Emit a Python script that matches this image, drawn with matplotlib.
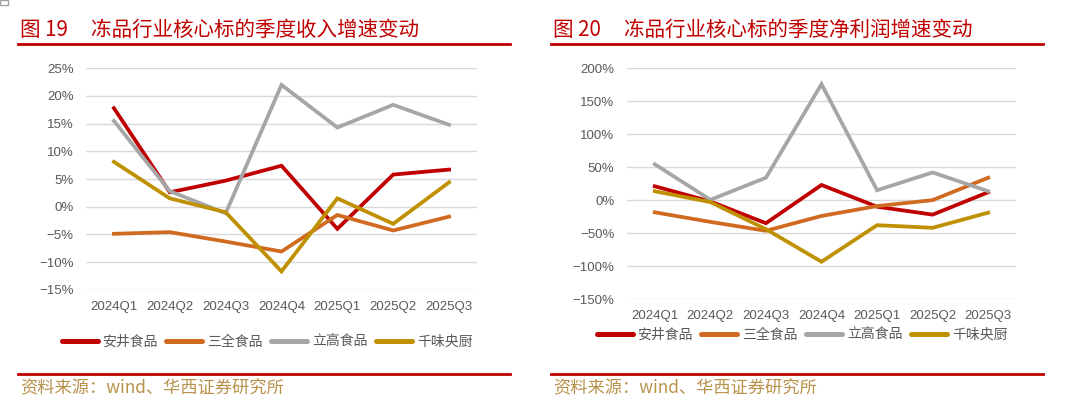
import numpy as np
import matplotlib.pyplot as plt
from matplotlib.lines import Line2D
from matplotlib.patches import Rectangle

plt.rcParams['font.family'] = ['Noto Sans CJK SC', 'DejaVu Sans']

# ---- data -------------------------------------------------------------
quarters = ['2024Q1', '2024Q2', '2024Q3', '2024Q4', '2025Q1', '2025Q2', '2025Q3']
companies = ['安井食品', '三全食品', '立高食品', '千味央厨']

# revenue growth, %
rev_anjing = [17.8, 2.6, 4.7, 7.4, -4.0, 5.8, 6.7]
rev_sanquan = [-4.9, -4.6, -6.3, -8.1, -1.5, -4.3, -1.8]
rev_ligao = [15.5, 2.8, -1.2, 22.0, 14.3, 18.4, 14.8]
rev_qianwei = [8.1, 1.5, -1.0, -11.7, 1.5, -3.1, 4.4]

# net profit growth, %
np_anjing = [21.0, -2.0, -35.0, 23.0, -10.0, -22.0, 12.0]
np_sanquan = [-18.5, -33.0, -46.5, -24.0, -9.0, 0.0, 34.0]
np_ligao = [54.5, 0.5, 34.0, 176.0, 15.0, 42.0, 13.5]
np_qianwei = [13.5, -3.0, -44.0, -93.5, -38.0, -42.0, -19.0]

colors = ['#C00000', '#D06A20', '#A6A6A6', '#BF9000']

W, H = 1080, 399
fig = plt.figure(figsize=(W / 100, H / 100), dpi=100)


def px_axes(x0, x1, y_top, y_bot):
    return fig.add_axes([x0 / W, 1 - y_bot / H, (x1 - x0) / W, (y_bot - y_top) / H])


def draw_panel(ax, series, ylim, yticks):
    x = np.arange(len(quarters))
    for s, c in zip(series, colors):
        ax.plot(x, s, color=c, lw=2.7, solid_joinstyle='miter', clip_on=False, zorder=3)
    ax.set_xlim(-0.5, len(quarters) - 0.5)
    ax.set_ylim(*ylim)
    ax.set_yticks(yticks)
    ax.set_yticklabels([f'{v}%'.replace('-', '−') for v in yticks],
                       family='Liberation Sans', fontsize=9.5, color='#595959')
    ax.set_xticks(x)
    ax.set_xticklabels(quarters, family='Liberation Sans', fontsize=9.5, color='#595959')
    ax.tick_params(axis='y', length=0, pad=9)
    ax.tick_params(axis='x', length=0, pad=8)
    ax.grid(axis='y', color='#D9D9D9', lw=1)
    ax.set_axisbelow(True)
    for sp in ax.spines.values():
        sp.set_visible(False)


ax1 = px_axes(86, 477, 68.3, 289.7)
draw_panel(ax1, [rev_anjing, rev_sanquan, rev_ligao, rev_qianwei],
           (-15, 25), list(range(-15, 26, 5)))

ax2 = px_axes(627, 1016, 68.3, 299)
draw_panel(ax2, [np_anjing, np_sanquan, np_ligao, np_qianwei],
           (-150, 200), list(range(-150, 201, 50)))

# legends
handles = [Line2D([], [], color=c, lw=3.6, solid_capstyle='round') for c in colors]
for cx, cy in [(267, 341.5), (802, 335)]:
    leg = fig.legend(handles, companies, loc='center', bbox_to_anchor=(cx / W, 1 - cy / H),
                     ncol=4, frameon=False, fontsize=10, handlelength=2.6,
                     handletextpad=0.35, columnspacing=0.6, borderaxespad=0)
    for t in leg.get_texts():
        t.set_color('#595959')

# titles, rules, sources
red = '#C00000'
for x0, x1, title in [(18, 510, '图 19     冻品行业核心标的季度收入增速变动'),
                      (551, 1043, '图 20     冻品行业核心标的季度净利润增速变动')]:
    fig.text((x0 + 2) / W, 1 - 30 / H, title, fontsize=14.8, color=red, va='center', ha='left')
    fig.add_artist(Line2D([x0 / W, x1 / W], [1 - 44 / H, 1 - 44 / H], color=red, lw=2))
    fig.add_artist(Line2D([x0 / W, x1 / W], [1 - 374 / H, 1 - 374 / H], color=red, lw=2))
    fig.text((x0 + 2) / W, 1 - 388 / H, '资料来源：wind、华西证券研究所',
             fontsize=12.4, color='#B8914B', va='center', ha='left')

fig.add_artist(Rectangle((0, 1 - 5 / H), 8 / W, 5 / H, transform=fig.transFigure,
                         fill=False, edgecolor='#A0A0A0', lw=1))

fig.savefig('out.png', dpi=100)
